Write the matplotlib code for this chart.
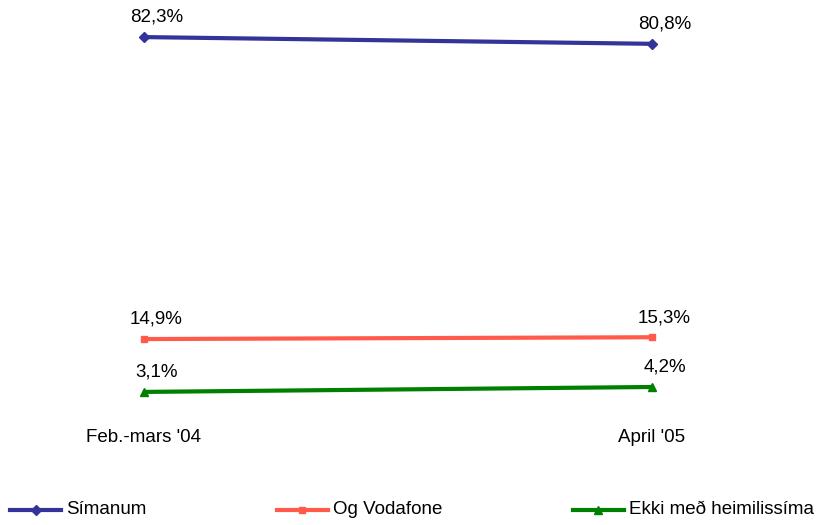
import matplotlib
matplotlib.use('Agg')
import matplotlib.pyplot as plt
from matplotlib.lines import Line2D

# data
periods = ["Feb.-mars '04", "April '05"]
simanum = [82.3, 80.8]
vodafone = [14.9, 15.3]
ekki = [3.1, 4.2]

names = ['Símanum', 'Og Vodafone', 'Ekki með heimilissíma']
colors = ['#333399', '#FF5A4A', '#008000']
markers = ['D', 's', '^']
msizes = [5, 5, 6]

plt.rcParams['font.family'] = ['Liberation Sans Narrow', 'Liberation Sans', 'DejaVu Sans']

fig = plt.figure(figsize=(8.28, 5.25), dpi=100)
ax = fig.add_axes([0, 0, 1, 1])
ax.axis('off')

x = list(range(len(periods)))
for vals, c, m, ms in zip([simanum, vodafone, ekki], colors, markers, msizes):
    ax.plot(x, vals, color=c, marker=m, markersize=ms, linewidth=3, solid_capstyle='butt')
    for xi, v in zip(x, vals):
        ax.annotate(f'{v:.1f}%'.replace('.', ','), (xi, v), xytext=(9, 8),
                    textcoords='offset points', ha='center', va='bottom', fontsize=13.5)

# category labels
for xi, lab in zip(x, periods):
    ax.text(xi, -7.0, lab, ha='center', va='center', fontsize=13.5)

# x=0 at 144px, x=1 at 652px; 4.48 px per %
ax.set_xlim(-144 / 508, (828 - 144) / 508)
ax.set_ylim((405.8 - 525) / 4.48, 405.8 / 4.48)

# legend drawn by hand along the bottom
leg_x = [10, 277, 573]
leg_y = 1 - 510 / 525
for lx, name, c, m, ms in zip(leg_x, names, colors, markers, msizes):
    fig.add_artist(Line2D([lx / 828, (lx + 51) / 828], [leg_y, leg_y], color=c,
                          linewidth=3, transform=fig.transFigure))
    fig.add_artist(Line2D([(lx + 25.5) / 828], [leg_y], color=c, marker=m,
                          markersize=ms, transform=fig.transFigure))
    fig.text((lx + 56) / 828, leg_y, name, ha='left', va='center', fontsize=13.5)

fig.savefig('out.png', dpi=100)
